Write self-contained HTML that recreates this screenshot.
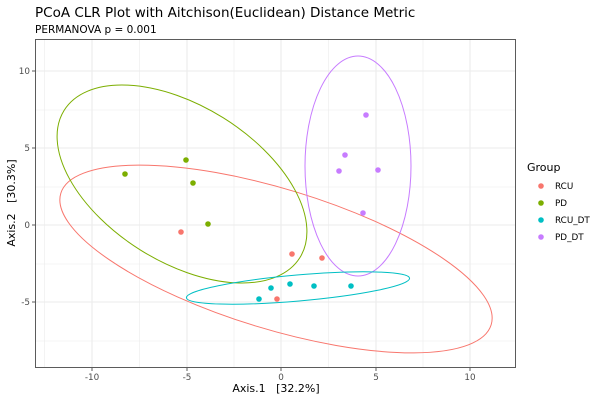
<!DOCTYPE html>
<html><head><style>body{margin:0;background:#fff}svg{display:block}text{font-family:"DejaVu Sans","Liberation Sans",sans-serif}</style></head>
<body>
<svg width="600" height="400" xmlns="http://www.w3.org/2000/svg">
<text x="35" y="17" font-size="13.5" fill="#000">PCoA CLR Plot with Aitchison(Euclidean) Distance Metric</text>
<text x="35" y="33" font-size="10.5" fill="#000">PERMANOVA p = 0.001</text>
<g stroke="#ebebeb" stroke-width="0.6">
<line x1="44.5" y1="39" x2="44.5" y2="367"/><line x1="139.5" y1="39" x2="139.5" y2="367"/><line x1="234" y1="39" x2="234" y2="367"/><line x1="328.5" y1="39" x2="328.5" y2="367"/><line x1="423" y1="39" x2="423" y2="367"/>
<line x1="35" y1="110" x2="515" y2="110"/><line x1="35" y1="187" x2="515" y2="187"/><line x1="35" y1="264" x2="515" y2="264"/><line x1="35" y1="341" x2="515" y2="341"/>
</g>
<g stroke="#ebebeb" stroke-width="1.1">
<line x1="92" y1="39" x2="92" y2="367"/><line x1="187" y1="39" x2="187" y2="367"/><line x1="281" y1="39" x2="281" y2="367"/><line x1="376" y1="39" x2="376" y2="367"/><line x1="470" y1="39" x2="470" y2="367"/>
<line x1="35" y1="71" x2="515" y2="71"/><line x1="35" y1="148" x2="515" y2="148"/><line x1="35" y1="225" x2="515" y2="225"/><line x1="35" y1="302" x2="515" y2="302"/>
</g>
<g fill="none" stroke-width="1">
<ellipse cx="276" cy="259" rx="225" ry="70" transform="rotate(17 276 259)" stroke="#F8766D"/>
<ellipse cx="182" cy="184" rx="139" ry="78" transform="rotate(32 182 184)" stroke="#7CAE00"/>
<ellipse cx="358" cy="166" rx="53" ry="110" stroke="#C77CFF"/>
<ellipse cx="298" cy="288" rx="112" ry="13" transform="rotate(-5 298 288)" stroke="#00BFC4"/>
</g>
<g fill="#F8766D"><circle cx="181" cy="232" r="2.8"/><circle cx="292" cy="254" r="2.8"/><circle cx="322" cy="258" r="2.8"/><circle cx="277" cy="299" r="2.8"/></g>
<g fill="#7CAE00"><circle cx="125" cy="174" r="2.8"/><circle cx="186" cy="160" r="2.8"/><circle cx="193" cy="183" r="2.8"/><circle cx="208" cy="224" r="2.8"/></g>
<g fill="#00BFC4"><circle cx="259" cy="299" r="2.8"/><circle cx="271" cy="288" r="2.8"/><circle cx="290" cy="284" r="2.8"/><circle cx="314" cy="286" r="2.8"/><circle cx="351" cy="286" r="2.8"/></g>
<g fill="#C77CFF"><circle cx="366" cy="115" r="2.8"/><circle cx="345" cy="155" r="2.8"/><circle cx="339" cy="171" r="2.8"/><circle cx="378" cy="170" r="2.8"/><circle cx="363" cy="213" r="2.8"/></g>
<rect x="35.5" y="39.5" width="480" height="328" fill="none" stroke="#333" stroke-width="0.8"/>
<g stroke="#333" stroke-width="0.8">
<line x1="92" y1="368" x2="92" y2="371"/><line x1="187" y1="368" x2="187" y2="371"/><line x1="281" y1="368" x2="281" y2="371"/><line x1="376" y1="368" x2="376" y2="371"/><line x1="470" y1="368" x2="470" y2="371"/>
<line x1="32" y1="71" x2="35" y2="71"/><line x1="32" y1="148" x2="35" y2="148"/><line x1="32" y1="225" x2="35" y2="225"/><line x1="32" y1="302" x2="35" y2="302"/>
</g>
<g font-size="8.8" fill="#4d4d4d" text-anchor="middle">
<text x="92" y="380">-10</text><text x="187" y="380">-5</text><text x="281" y="380">0</text><text x="376" y="380">5</text><text x="470" y="380">10</text>
</g>
<g font-size="8.8" fill="#4d4d4d" text-anchor="end">
<text x="30" y="74">10</text><text x="30" y="151">5</text><text x="30" y="228">0</text><text x="30" y="305">-5</text>
</g>
<text x="276" y="392" font-size="11" text-anchor="middle" xml:space="preserve">Axis.1   [32.2%]</text>
<text transform="translate(15 203) rotate(-90)" font-size="11" text-anchor="middle" xml:space="preserve">Axis.2   [30.3%]</text>
<text x="527" y="171" font-size="11">Group</text>
<g font-size="8.8" fill="#000">
<circle cx="541" cy="186" r="2.8" fill="#F8766D"/><text x="555" y="189">RCU</text>
<circle cx="541" cy="203" r="2.8" fill="#7CAE00"/><text x="555" y="206">PD</text>
<circle cx="541" cy="220" r="2.8" fill="#00BFC4"/><text x="555" y="223">RCU_DT</text>
<circle cx="541" cy="237" r="2.8" fill="#C77CFF"/><text x="555" y="240">PD_DT</text>
</g>
</svg>
</body></html>
